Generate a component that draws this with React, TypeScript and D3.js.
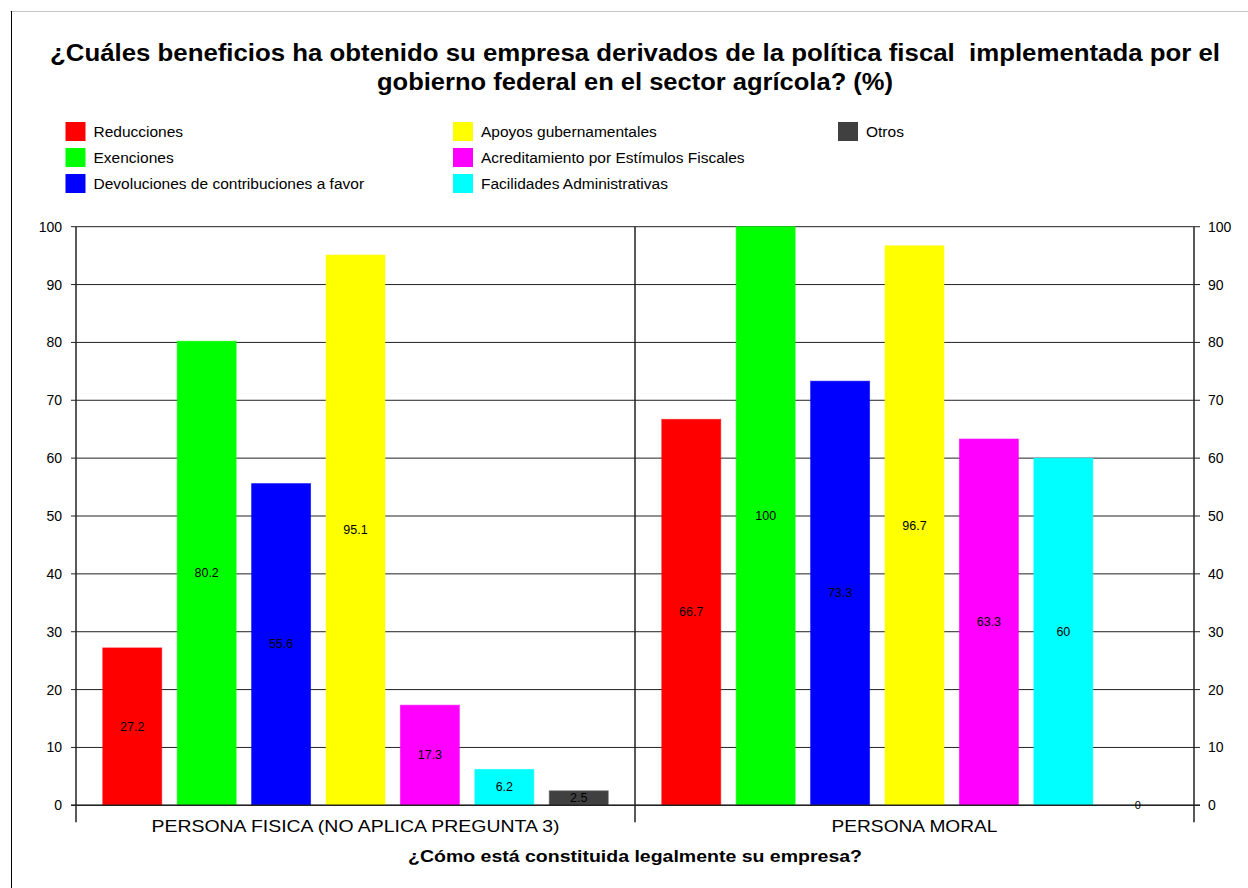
import React from "react";
import * as d3 from "d3";

const categories = ["PERSONA FISICA (NO APLICA PREGUNTA 3)", "PERSONA MORAL"];
const series = [
  "Reducciones",
  "Exenciones",
  "Devoluciones de contribuciones a favor",
  "Apoyos gubernamentales",
  "Acreditamiento por Estímulos Fiscales",
  "Facilidades Administrativas",
  "Otros",
];
const colors = ["#FF0000", "#00FF00", "#0000FF", "#FFFF00", "#FF00FF", "#00FFFF", "#404040"];
const personaFisica = [27.2, 80.2, 55.6, 95.1, 17.3, 6.2, 2.5];
const personaMoral = [66.7, 100, 73.3, 96.7, 63.3, 60, 0];
const yTicks = [0, 10, 20, 30, 40, 50, 60, 70, 80, 90, 100];
const titleLines = [
  "¿Cuáles beneficios ha obtenido su empresa derivados de la política fiscal  implementada por el",
  "gobierno federal en el sector agrícola? (%)",
];
const xTitle = "¿Cómo está constituida legalmente su empresa?";

const FONT = "'Liberation Sans', Arial, sans-serif";

export default function App() {
  const W = 1248, H = 888;
  const left = 76, right = 1194, top = 226.7, bottom = 805.3;
  const values = [personaFisica, personaMoral];

  const x0 = d3.scaleBand<string>().domain(categories).range([left, right]).padding(0);
  const x1 = d3
    .scaleBand<string>()
    .domain(series)
    .range([0, x0.bandwidth()])
    .paddingInner(0.208)
    .paddingOuter(0.36);
  const y = d3.scaleLinear().domain([0, 100]).range([bottom, top]);

  const legendCols = [65.5, 453, 838];
  const legendRows = [131.5, 157.5, 183.5];
  const legendItems = series.map((s, i) => ({
    s,
    c: colors[i],
    x: legendCols[Math.floor(i / 3)],
    y: legendRows[i % 3],
  }));

  const titleWidths = [1170, 516];
  const catWidths = [408, 166];

  return (
    <svg
      width={W}
      height={H}
      style={{ position: "absolute", left: 0, top: 0, background: "#fff" }}
      fontFamily={FONT}
    >
      <rect x={0} y={0} width={W} height={H} fill="#fff" />
      {/* frame */}
      <line x1={10} y1={11.5} x2={W} y2={11.5} stroke="#c8c8c8" strokeWidth={1} />
      <line x1={11.5} y1={11} x2={11.5} y2={H} stroke="#000" strokeWidth={1} />

      {/* title */}
      {titleLines.map((t, i) => (
        <text
          key={i}
          x={635}
          y={61 + i * 29}
          textAnchor="middle"
          fontSize={23}
          fontWeight="bold"
          fill="#000"
          textLength={titleWidths[i]}
          lengthAdjust="spacingAndGlyphs"
          style={{ whiteSpace: "pre" }}
        >
          {t}
        </text>
      ))}

      {/* legend */}
      {legendItems.map((d) => (
        <g key={d.s}>
          <rect x={d.x} y={d.y - 9.5} width={20} height={19} fill={d.c} />
          <text x={d.x + 28} y={d.y + 5} fontSize={15.5} fill="#000">
            {d.s}
          </text>
        </g>
      ))}

      {/* gridlines */}
      {yTicks.map((t) => (
        <line
          key={"g" + t}
          x1={left - 5}
          x2={right + 6}
          y1={y(t)}
          y2={y(t)}
          stroke="#222"
          strokeWidth={1}
        />
      ))}

      {/* bars */}
      {categories.map((cat, ci) => (
        <g key={cat} transform={`translate(${x0(cat)},0)`}>
          {series.map((s, si) => {
            const v = values[ci][si];
            const c = colors[si];
            const bx = x1(s)!;
            const bw = x1.bandwidth();
            return (
              <g key={s}>
                {v > 0 && (
                  <rect
                    x={bx}
                    y={y(v)}
                    width={bw}
                    height={y(0) - y(v)}
                    fill={c}
                    stroke={d3.color(c)!.brighter(0.8).formatHex()}
                    strokeOpacity={0.6}
                    strokeWidth={1}
                  />
                )}
              </g>
            );
          })}
        </g>
      ))}

      {/* axes */}
      <line x1={left} x2={left} y1={top} y2={bottom + 17} stroke="#222" strokeWidth={1.5} />
      <line x1={right} x2={right} y1={top} y2={bottom + 17} stroke="#222" strokeWidth={1.5} />
      <line x1={x0(categories[1])!} x2={x0(categories[1])!} y1={top} y2={bottom + 17} stroke="#222" strokeWidth={1.5} />
      <line x1={left - 5} x2={right + 6} y1={bottom} y2={bottom} stroke="#222" strokeWidth={1.5} />

      {/* value labels */}
      {categories.map((cat, ci) => (
        <g key={"l" + cat} transform={`translate(${x0(cat)},0)`}>
          {series.map((s, si) => {
            const v = values[ci][si];
            return (
              <text
                key={s}
                x={x1(s)! + x1.bandwidth() / 2}
                y={y(v / 2) + 4}
                textAnchor="middle"
                fontSize={v === 0 ? 11 : 12.5}
                fill="#000"
              >
                {String(v)}
              </text>
            );
          })}
        </g>
      ))}

      {/* y tick labels */}
      {yTicks.map((t) => (
        <g key={"t" + t}>
          <text x={62} y={y(t) + 5} textAnchor="end" fontSize={14} fill="#000">
            {t}
          </text>
          <text x={1208} y={y(t) + 5} textAnchor="start" fontSize={14} fill="#000">
            {t}
          </text>
        </g>
      ))}

      {/* category labels */}
      {categories.map((cat, ci) => (
        <text
          key={"c" + cat}
          x={x0(cat)! + x0.bandwidth() / 2}
          y={832}
          textAnchor="middle"
          fontSize={17}
          fill="#000"
          textLength={catWidths[ci]}
          lengthAdjust="spacingAndGlyphs"
        >
          {cat}
        </text>
      ))}

      <text
        x={635}
        y={862}
        textAnchor="middle"
        fontSize={17}
        fontWeight="bold"
        fill="#000"
        textLength={454}
        lengthAdjust="spacingAndGlyphs"
      >
        {xTitle}
      </text>
    </svg>
  );
}
